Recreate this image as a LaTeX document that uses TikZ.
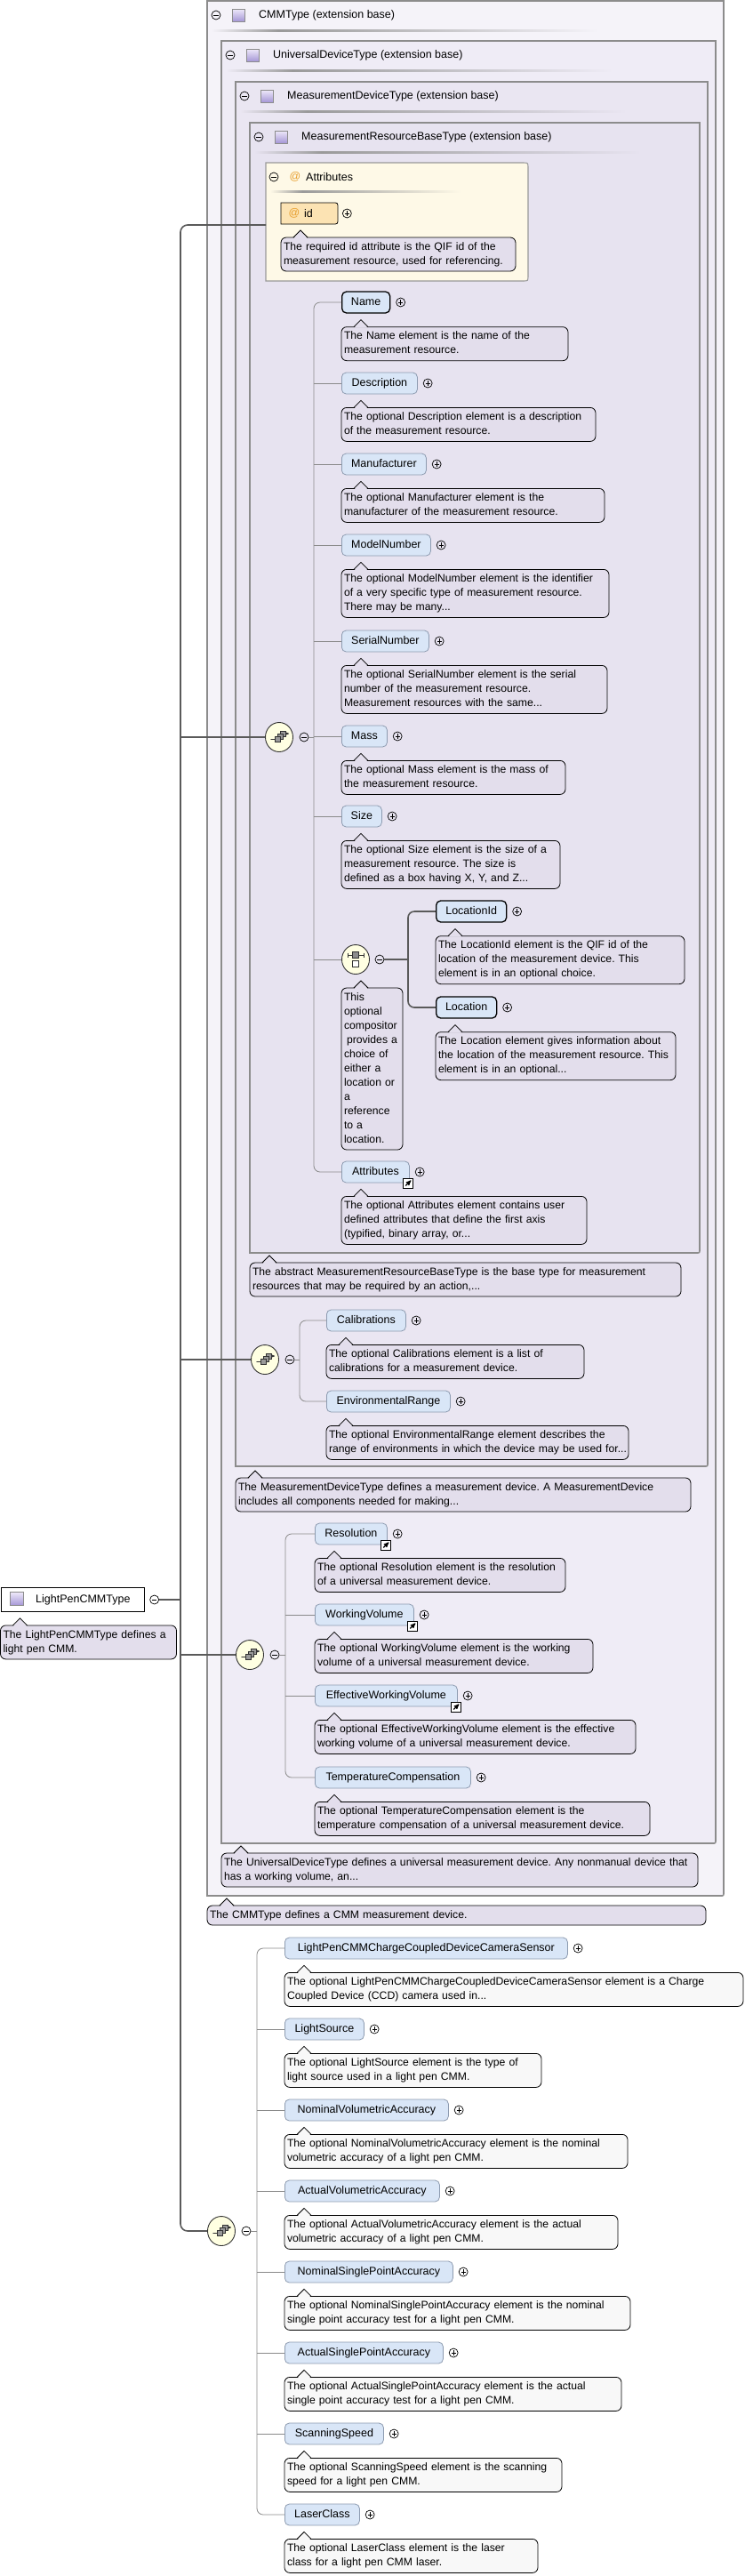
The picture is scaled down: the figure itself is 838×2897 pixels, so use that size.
\documentclass[tikz,border=0pt]{standalone}
\usepackage{fontspec}
\setmainfont{Liberation Sans}
\usetikzlibrary{arrows}
\usetikzlibrary{positioning,shapes.geometric}
\frenchspacing

\definecolor{cmmfill}{HTML}{F5F3F9}
\definecolor{udtfill}{HTML}{EFECF6}
\definecolor{mdtfill}{HTML}{EAE6F2}
\definecolor{mrbfill}{HTML}{E7E3F0}
\definecolor{docfill}{HTML}{E3DEEC}
\definecolor{docwhite}{HTML}{F8F8F8}
\definecolor{elfill}{HTML}{D9E6F7}
\definecolor{eledge}{HTML}{8D9BB0}
\definecolor{grpgray}{HTML}{8C8C8C}
\definecolor{attrfill}{HTML}{FEF9E7}
\definecolor{idfill}{HTML}{FCE3B3}
\definecolor{atorange}{HTML}{E8A030}
\definecolor{compfill}{HTML}{FFFFE2}
\definecolor{seqgray}{HTML}{8A8A8A}
\definecolor{trunkgray}{HTML}{5A5A5A}
\definecolor{icontop}{HTML}{EEE9FA}
\definecolor{iconbot}{HTML}{A596D6}
\definecolor{sepgray}{HTML}{9A9A9A}

\newcommand\dgfont{\fontsize{12.2}{16}\selectfont}
\newcommand\lblfont{\fontsize{12.5}{15}\selectfont}
% pointer on top of a doc box
\newcommand\docptr[2]{%
  \fill[#2] ([xshift=14.6pt,yshift=-0.9pt]#1.north west) -- ([xshift=22pt,yshift=8pt]#1.north west) -- ([xshift=29.4pt,yshift=-0.9pt]#1.north west) -- cycle;
  \draw[line width=0.8pt] ([xshift=14pt]#1.north west) -- ([xshift=22pt,yshift=8pt]#1.north west) -- ([xshift=30pt]#1.north west);}
% outline, bottom right corner rounded
\newcommand\brbox[2][]{%
  \filldraw[grpline,#1] (#2.north west) -- (#2.north east) -- ([yshift=4pt]#2.south east) .. controls (#2.south east) .. ([xshift=-4pt]#2.south east) -- (#2.south west) -- cycle;}
% outline, right corners rounded
\newcommand\rrbox[3][]{%
  \filldraw[#1] (#2.north west) -- ([xshift=-#3]#2.north east) .. controls (#2.north east) .. ([yshift=-#3]#2.north east) -- ([yshift=#3]#2.south east) .. controls (#2.south east) .. ([xshift=-#3]#2.south east) -- (#2.south west) -- cycle;}

\begin{document}
\begin{tikzpicture}[x=1pt,y=-1pt,>=stealth',
    every node/.style={font=\dgfont},
    elem/.style={rectangle, rounded corners=5pt, draw=eledge, line width=0.8pt, fill=elfill, font=\lblfont,
      minimum width=#1pt, minimum height=24pt, inner xsep=0pt, text height=9pt, text depth=2.5pt, anchor=west},
    reqel/.style={draw=black, line width=1.3pt},
    doc/.style={rectangle, rounded corners=6pt, draw=black, line width=0.8pt, fill=docfill, outer sep=0pt,
      text width=#1pt, align=left, inner sep=3pt, execute at begin node=\strut, execute at end node=\strut},
    docw/.style={doc=#1, fill=docwhite},
    grpnode/.style={rectangle, draw=none, anchor=north west, inner sep=0pt, outer sep=0pt},
    grpline/.style={draw=grpgray, line width=1.6pt},
    hdr/.style={anchor=west, inner sep=0pt, font=\lblfont},
    atsign/.style={text=atorange, inner sep=0pt, font=\lblfont},
    typeicon/.style={rectangle, draw=black!45, line width=0.6pt, top color=icontop, bottom color=iconbot, minimum size=14pt, inner sep=0pt},
    lpbox/.style={rectangle, draw=black, line width=0.8pt, fill=white, minimum width=161pt, minimum height=27pt, anchor=west},
    expand/.style={circle, draw=black, line width=0.7pt, minimum size=10pt, inner sep=0pt,
      path picture={\draw[line width=0.7pt] ([xshift=-2.6pt]path picture bounding box.center) -- ([xshift=2.6pt]path picture bounding box.center)
        ([yshift=-2.6pt]path picture bounding box.center) -- ([yshift=2.6pt]path picture bounding box.center);}},
    collapse/.style={circle, draw=black, line width=0.7pt, minimum size=10pt, inner sep=0pt,
      path picture={\draw[line width=0.7pt] ([xshift=-2.6pt]path picture bounding box.center) -- ([xshift=2.6pt]path picture bounding box.center);}},
    refmark/.style={rectangle, draw=black, line width=0.7pt, fill=white, minimum size=11pt, inner sep=0pt,
      path picture={\draw[->, line width=1.1pt] ([shift={(-3pt,-3pt)}]path picture bounding box.center) -- ([shift={(3pt,3pt)}]path picture bounding box.center);}},
    seqcomp/.style={ellipse, draw=black!80, line width=0.9pt, fill=compfill, minimum width=31pt, minimum height=33pt, inner sep=0pt,
      path picture={\begin{scope}[shift={(path picture bounding box.center)}, x=1pt, y=-1pt]
        \draw[line width=0.6pt] (-10,2) -- (-5,2);
        \fill (-10,2) circle (0.9pt);
        \filldraw[fill=black!40, line width=0.5pt] (1,-7) rectangle (7,-1);
        \filldraw[fill=black!40, line width=0.5pt] (-2,-4) rectangle (4,2);
        \filldraw[fill=black!40, line width=0.5pt] (-5,-1) rectangle (1,5);
        \draw[line width=0.6pt, ->] (7,-4) -- (11,-4);
      \end{scope}}},
    choicecomp/.style={ellipse, draw=black!80, line width=0.9pt, fill=compfill, minimum width=31pt, minimum height=33pt, inner sep=0pt,
      path picture={\begin{scope}[shift={(path picture bounding box.center)}, x=1pt, y=-1pt]
        \draw[line width=0.6pt] (-9,-5) -- (9,-5) (-9,-7.5) -- (-9,-2.5) (9,-7.5) -- (9,-2.5);
        \filldraw[fill=black!45, line width=0.5pt] (-3.5,-8.5) rectangle (3.5,-1.5);
        \filldraw[fill=white, line width=0.5pt] (-3.5,1.5) rectangle (3.5,8.5);
      \end{scope}}},
    seqline/.style={draw=seqgray, line width=0.8pt},
    trunkline/.style={draw=trunkgray, line width=1.6pt},
    choiceline/.style={draw=trunkgray, line width=1.6pt}]

  \path[use as bounding box, fill=white] (0,0) rectangle (838,2897);

  % extension base boxes
  \foreach \bn/\bl/\bt/\br/\bb/\bc/\bname in {cmm/233/1/814/2132/cmmfill/CMMType, udt/249/46/805/2073/udtfill/UniversalDeviceType,
      mdt/265/92/796/1649/mdtfill/MeasurementDeviceType, mrb/281/138/787/1409/mrbfill/MeasurementResourceBaseType}{
    \node[grpnode, minimum width=\br-\bl, minimum height=\bb-\bt] (\bn) at (\bl,\bt) {};
    \brbox[fill=\bc]{\bn}
    \node[collapse] (\bn-m) at (\bl+10,\bt+16) {};
    \node[typeicon] (\bn-i) at (\bl+35,\bt+16) {};
    \node[hdr] (\bn-h) at (\bl+58,\bt+16) {\bname\ (extension base)};
    \shade[left color=\bc, right color=sepgray] (\bl+5,\bt+32) rectangle (\bl+80,\bt+34);
    \shade[left color=sepgray, right color=\bc] (\bl+80,\bt+32) rectangle (\bl+440,\bt+34);
  }

  % attributes
  \node[grpnode, minimum width=295, minimum height=133] (attrs) at (299,183) {};
  \rrbox[fill=attrfill, draw=black!40, line width=1.1pt]{attrs}{6pt}
  \node[collapse] (attrs-m) at (308,199) {};
  \node[atsign] (attrs-a) at (332,199) {@};
  \node[hdr] (attrs-h) at (344,199) {Attributes};
  \shade[left color=attrfill, right color=sepgray] (304,214) rectangle (340,216);
  \shade[left color=sepgray, right color=attrfill] (340,214) rectangle (518,216);
  \node[grpnode, anchor=west, minimum width=64, minimum height=24] (idat) at (316,240) {};
  \rrbox[fill=idfill, draw=black, line width=0.8pt]{idat}{6pt}
  \node[atsign] (idat-a) at (331,240) {@};
  \node[hdr] (idat-t) at (342,240) {id};
  \node[expand, right=5pt of idat] (x-idat) {};
  \node[doc=258, below=15pt of idat.south west, anchor=north west] (d-idat) {The required id attribute is the QIF id of the\\measurement resource, used for referencing.};

  % the type itself
  \node[lpbox] (lp) at (0.5,1799) {};
  \node[typeicon, minimum size=15pt] (lp-i) at (19,1798) {};
  \node[hdr] (lp-h) at (40,1799) {LightPenCMMType};
  \node[collapse, right=6pt of lp] (lp-m) {};
  \node[doc=192, below=15pt of lp.south west, anchor=north west] (d-lp) {The LightPenCMMType defines a\\light pen CMM.};

  % compositors
  \node[seqcomp] (s1) at (314,829) {};
  \node[collapse] (s1-m) at (342,829) {};
  \node[choicecomp] (ch) at (400,1079) {};
  \node[collapse] (ch-m) at (427,1079) {};
  \node[seqcomp] (s2) at (298,1529) {};
  \node[collapse] (s2-m) at (326,1529) {};
  \node[seqcomp] (s3) at (281,1861) {};
  \node[collapse] (s3-m) at (309,1861) {};
  \node[seqcomp] (s4) at (249,2509) {};
  \node[collapse] (s4-m) at (277,2509) {};

  % elements
  \node[elem=54, reqel] (nm) at (384,340) {Name};
  \node[expand, right=6pt of nm] (x-nm) {};
  \node[elem=79, reqel] (lid) at (490,1025) {LocationId};
  \node[expand, right=6pt of lid] (x-lid) {};
  \node[elem=68, reqel] (loc) at (490,1133) {Location};
  \node[expand, right=6pt of loc] (x-loc) {};
  \foreach \en/\ex/\ey/\ew/\et in {ds/384/431/85/Description, mf/384/522/95/Manufacturer, mn/384/613/100/ModelNumber,
      sn/384/721/98/SerialNumber, ms/384/828/51/Mass, sz/384/918/45/Size, att/384/1318/76/Attributes,
      cal/367/1485/89/Calibrations, env/367/1576/139/EnvironmentalRange,
      res/354/1725/81/Resolution, wv/354/1816/111/WorkingVolume, ewv/354/1907/160/EffectiveWorkingVolume, tc/354/1999/175/TemperatureCompensation,
      ccd/320/2191/318/LightPenCMMChargeCoupledDeviceCameraSensor, ls/320/2282/89/LightSource, nva/320/2373/184/NominalVolumetricAccuracy,
      ava/320/2464/174/ActualVolumetricAccuracy, nspa/320/2555/189/NominalSinglePointAccuracy, aspa/320/2646/178/ActualSinglePointAccuracy,
      ss/320/2737/111/ScanningSpeed, lc/320/2828/84/LaserClass}{
    \node[elem=\ew] (\en) at (\ex,\ey) {\et};
    \node[expand, right=6pt of \en] (x-\en) {};
  }
  \foreach \rn in {att,res,wv,ewv}
    \node[refmark] (r-\rn) at ([xshift=-1.5pt]\rn.south east) {};

  % docs
  \node[doc=249, below=15pt of nm.south west, anchor=north west] (d-nm) {The Name element is the name of the\\measurement resource.};
  \node[doc=280, below=15pt of ds.south west, anchor=north west] (d-ds) {The optional Description element is a description\\of the measurement resource.};
  \node[doc=290, below=15pt of mf.south west, anchor=north west] (d-mf) {The optional Manufacturer element is the\\manufacturer of the measurement resource.};
  \node[doc=295, below=15pt of mn.south west, anchor=north west] (d-mn) {The optional ModelNumber element is the identifier\\of a very specific type of measurement resource.\\There may be many...};
  \node[doc=293, below=15pt of sn.south west, anchor=north west] (d-sn) {The optional SerialNumber element is the serial\\number of the measurement resource.\\Measurement resources with the same...};
  \node[doc=246, below=15pt of ms.south west, anchor=north west] (d-ms) {The optional Mass element is the mass of\\the measurement resource.};
  \node[doc=240, below=15pt of sz.south west, anchor=north west] (d-sz) {The optional Size element is the size of a\\measurement resource. The size is\\defined as a box having X, Y, and Z...};
  \node[doc=274, below=15pt of lid.south west, anchor=north west] (d-lid) {The LocationId element is the QIF id of the\\location of the measurement device. This\\element is in an optional choice.};
  \node[doc=264, below=15pt of loc.south west, anchor=north west] (d-loc) {The Location element gives information about\\the location of the measurement resource. This\\element is in an optional...};
  \node[doc=63, anchor=north west] (d-ch) at (384,1111) {This\\optional\\compositor\\\hspace*{3pt}provides a\\choice of\\either a\\location or\\a\\reference\\to a\\location.};
  \node[doc=270, below=15pt of att.south west, anchor=north west] (d-att) {The optional Attributes element contains user\\defined attributes that define the first axis\\(typified, binary array, or...};
  \node[doc=479, below=11pt of mrb.south west, anchor=north west] (d-mrb) {The abstract MeasurementResourceBaseType is the base type for measurement\\resources that may be required by an action,...};
  \node[doc=284, below=15pt of cal.south west, anchor=north west] (d-cal) {The optional Calibrations element is a list of\\calibrations for a measurement device.};
  \node[doc=334, below=15pt of env.south west, anchor=north west] (d-env) {The optional EnvironmentalRange element describes the\\\mbox{range of environments in which the device may be used for...}};
  \node[doc=506, below=13pt of mdt.south west, anchor=north west] (d-mdt) {The MeasurementDeviceType defines a measurement device. A MeasurementDevice\\includes all components needed for making...};
  \node[doc=276, below=15pt of res.south west, anchor=north west] (d-res) {The optional Resolution element is the resolution\\of a universal measurement device.};
  \node[doc=307, below=15pt of wv.south west, anchor=north west] (d-wv) {The optional WorkingVolume element is the working\\volume of a universal measurement device.};
  \node[doc=355, below=15pt of ewv.south west, anchor=north west] (d-ewv) {The optional EffectiveWorkingVolume element is the effective\\working volume of a universal measurement device.};
  \node[doc=371, below=15pt of tc.south west, anchor=north west] (d-tc) {The optional TemperatureCompensation element is the\\temperature compensation of a universal measurement device.};
  \node[doc=530, below=11pt of udt.south west, anchor=north west] (d-udt) {The UniversalDeviceType defines a universal measurement device. Any nonmanual device that\\has a working volume, an...};
  \node[doc=555, below=11pt of cmm.south west, anchor=north west] (d-cmm) {The CMMType defines a CMM measurement device.};
  \node[docw=510, below=15pt of ccd.south west, anchor=north west] (d-ccd) {The optional LightPenCMMChargeCoupledDeviceCameraSensor element is a Charge\\Coupled Device (CCD) camera used in...};
  \node[docw=283, below=15pt of ls.south west, anchor=north west] (d-ls) {The optional LightSource element is the type of\\light source used in a light pen CMM.};
  \node[docw=380, below=15pt of nva.south west, anchor=north west] (d-nva) {The optional NominalVolumetricAccuracy element is the nominal\\volumetric accuracy of a light pen CMM.};
  \node[docw=369, below=15pt of ava.south west, anchor=north west] (d-ava) {The optional ActualVolumetricAccuracy element is the actual\\volumetric accuracy of a light pen CMM.};
  \node[docw=383, below=15pt of nspa.south west, anchor=north west] (d-nspa) {The optional NominalSinglePointAccuracy element is the nominal\\single point accuracy test for a light pen CMM.};
  \node[docw=373, below=15pt of aspa.south west, anchor=north west] (d-aspa) {The optional ActualSinglePointAccuracy element is the actual\\single point accuracy test for a light pen CMM.};
  \node[docw=306, below=15pt of ss.south west, anchor=north west] (d-ss) {The optional ScanningSpeed element is the scanning\\speed for a light pen CMM.};
  \node[docw=279, below=15pt of lc.south west, anchor=north west] (d-lc) {The optional LaserClass element is the laser\\class for a light pen CMM laser.};

  \foreach \dn in {d-idat,d-lp,d-nm,d-ds,d-mf,d-mn,d-sn,d-ms,d-sz,d-lid,d-loc,d-ch,d-att,d-mrb,d-cal,d-env,d-mdt,d-res,d-wv,d-ewv,d-tc,d-udt,d-cmm}
    \docptr{\dn}{docfill};
  \foreach \dn in {d-ccd,d-ls,d-nva,d-ava,d-nspa,d-aspa,d-ss,d-lc}
    \docptr{\dn}{docwhite};

  % connectors
  \coordinate (trunk) at (203,1800);
  \coordinate (bar1) at (353,829);
  \coordinate (bar5) at (459,1079);
  \coordinate (bar2) at (337,1529);
  \coordinate (bar3) at (321,1861);
  \coordinate (bar4) at (289,2509);

  \draw[trunkline, rounded corners=8pt] ([yshift=-3.5pt]attrs.west) -| (trunk) |- (s4.west);
  \foreach \sn in {s1,s2,s3}
    \draw[trunkline] (\sn.west) -- (\sn.west -| trunk);
  \draw[trunkline, line width=2.6pt] (lp-m.east) -- (lp-m.east -| trunk);

  \draw[seqline, rounded corners=7pt] (nm.west) -| (bar1) |- (att.west);
  \foreach \e in {ds,mf,mn,sn,ms,sz,ch}
    \draw[seqline] (\e.west) -- (\e.west -| bar1);
  \draw[seqline] (s1-m.east) -- (bar1);

  \draw[choiceline, rounded corners=7pt] (lid.west) -| (bar5) |- (loc.west);
  \draw[choiceline] (ch-m.east) -- (bar5);

  \draw[seqline, rounded corners=7pt] (cal.west) -| (bar2) |- (env.west);
  \draw[seqline] (s2-m.east) -- (bar2);

  \draw[seqline, rounded corners=7pt] (res.west) -| (bar3) |- (tc.west);
  \foreach \e in {wv,ewv}
    \draw[seqline] (\e.west) -- (\e.west -| bar3);
  \draw[seqline] (s3-m.east) -- (bar3);

  \draw[seqline, rounded corners=7pt] (ccd.west) -| (bar4) |- (lc.west);
  \foreach \e in {ls,nva,ava,nspa,aspa,ss}
    \draw[seqline] (\e.west) -- (\e.west -| bar4);
  \draw[seqline] (s4-m.east) -- (bar4);
\end{tikzpicture}
\end{document}
